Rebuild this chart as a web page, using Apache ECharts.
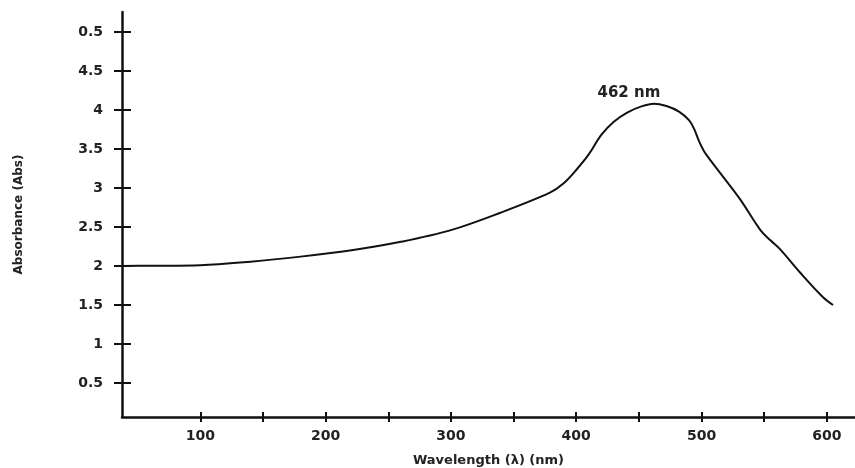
<!DOCTYPE html>
<html>
<head>
<meta charset="utf-8">
<script src="https://cdn.jsdelivr.net/npm/echarts@6/dist/echarts.min.js"></script>
<style>
html,body{margin:0;padding:0;background:#fff;}
#chart{width:855px;height:468px;}
</style>
</head>
<body>
<div id="chart"></div>
<script>
// Spectrum data (wavelength nm, absorbance)
const wavelengths = [37.7, 60, 100, 140, 180, 222, 260, 300, 339, 379, 390, 401, 410, 420, 430, 441, 451, 462, 472, 482, 490, 494, 498, 502, 506, 515, 531, 547, 555, 563, 579, 597, 605];
const absorbance  = [2.00, 2.003, 2.01, 2.055, 2.12, 2.205, 2.31, 2.46, 2.68, 2.94, 3.06, 3.25, 3.43, 3.68, 3.85, 3.97, 4.04, 4.08, 4.05, 3.98, 3.87, 3.76, 3.60, 3.47, 3.38, 3.19, 2.85, 2.46, 2.33, 2.21, 1.91, 1.60, 1.50];
const peakPoint = [462, 4.08];
const peakLabel = '462 nm';
const xTickValues = [100, 150, 200, 250, 300, 350, 400, 450, 500, 550, 600];
const xLabelValues = [100, 200, 300, 400, 500, 600];
const yTickValues = [0.5, 1, 1.5, 2, 2.5, 3, 3.5, 4, 4.5, 5];
const yTickLabels = ['0.5', '1', '1.5', '2', '2.5', '3', '3.5', '4', '4.5', '0.5'];
const xTitle = 'Wavelength (λ) (nm)';
const yTitle = 'Absorbance (Abs)';

const FONT = 'DejaVu Sans';
const seriesData = wavelengths.map((w, i) => [w, absorbance[i]]);

const chart = echarts.init(document.getElementById('chart'));
const xBase = {
  type: 'value', min: 37.5, max: 622.5, splitLine: {show: false}
};
const yBase = {
  type: 'value', min: 0.064, max: 5.256, splitLine: {show: false}
};
chart.setOption({
  animation: false,
  backgroundColor: '#fff',
  grid: {left: 122, right: 0, top: 12, bottom: 51, containLabel: false, outerBoundsMode: 'none'},
  xAxis: [
    Object.assign({}, xBase, {
      position: 'bottom',
      axisLine: {show: true, lineStyle: {color: '#111', width: 2.5}},
      axisTick: {show: true, length: 5, inside: false, lineStyle: {color: '#111', width: 2}, customValues: xTickValues},
      axisLabel: {show: true, color: '#222', fontFamily: FONT, fontWeight: 'bold', fontSize: 14, margin: 12, customValues: xLabelValues},
      name: xTitle, nameLocation: 'middle', nameGap: 37,
      nameTextStyle: {color: '#222', fontFamily: FONT, fontWeight: 'bold', fontSize: 13}
    }),
    Object.assign({}, xBase, {
      position: 'bottom',
      axisLine: {show: false},
      axisTick: {show: true, length: 5, inside: true, lineStyle: {color: '#111', width: 2}, customValues: xTickValues},
      axisLabel: {show: false}
    })
  ],
  yAxis: [
    Object.assign({}, yBase, {
      position: 'left',
      axisLine: {show: true, lineStyle: {color: '#111', width: 2.5}},
      axisTick: {show: true, length: 8, inside: false, lineStyle: {color: '#111', width: 2}, customValues: yTickValues},
      axisLabel: {show: true, color: '#222', fontFamily: FONT, fontWeight: 'bold', fontSize: 14, margin: 19,
        customValues: yTickValues,
        formatter: function (v) {
          let best = 0, d = Infinity;
          yTickValues.forEach((t, i) => { if (Math.abs(t - v) < d) { d = Math.abs(t - v); best = i; } });
          return yTickLabels[best];
        }},
      name: yTitle, nameLocation: 'middle', nameGap: 97, nameRotate: 90,
      nameTextStyle: {color: '#222', fontFamily: FONT, fontWeight: 'bold', fontSize: 12}
    }),
    Object.assign({}, yBase, {
      position: 'left',
      axisLine: {show: false},
      axisTick: {show: true, length: 9, inside: true, lineStyle: {color: '#111', width: 2}, customValues: yTickValues},
      axisLabel: {show: false}
    })
  ],
  series: [{
    type: 'line',
    data: seriesData,
    smooth: 0.35,
    showSymbol: false,
    symbol: 'none',
    lineStyle: {color: '#111', width: 2},
    markPoint: {
      symbol: 'circle', symbolSize: 0,
      data: [{coord: peakPoint, value: peakLabel}],
      label: {show: true, formatter: peakLabel, color: '#222', fontFamily: FONT, fontWeight: 'bold', fontSize: 15, offset: [-25, -11]}
    }
  }]
});
</script>
</body>
</html>
